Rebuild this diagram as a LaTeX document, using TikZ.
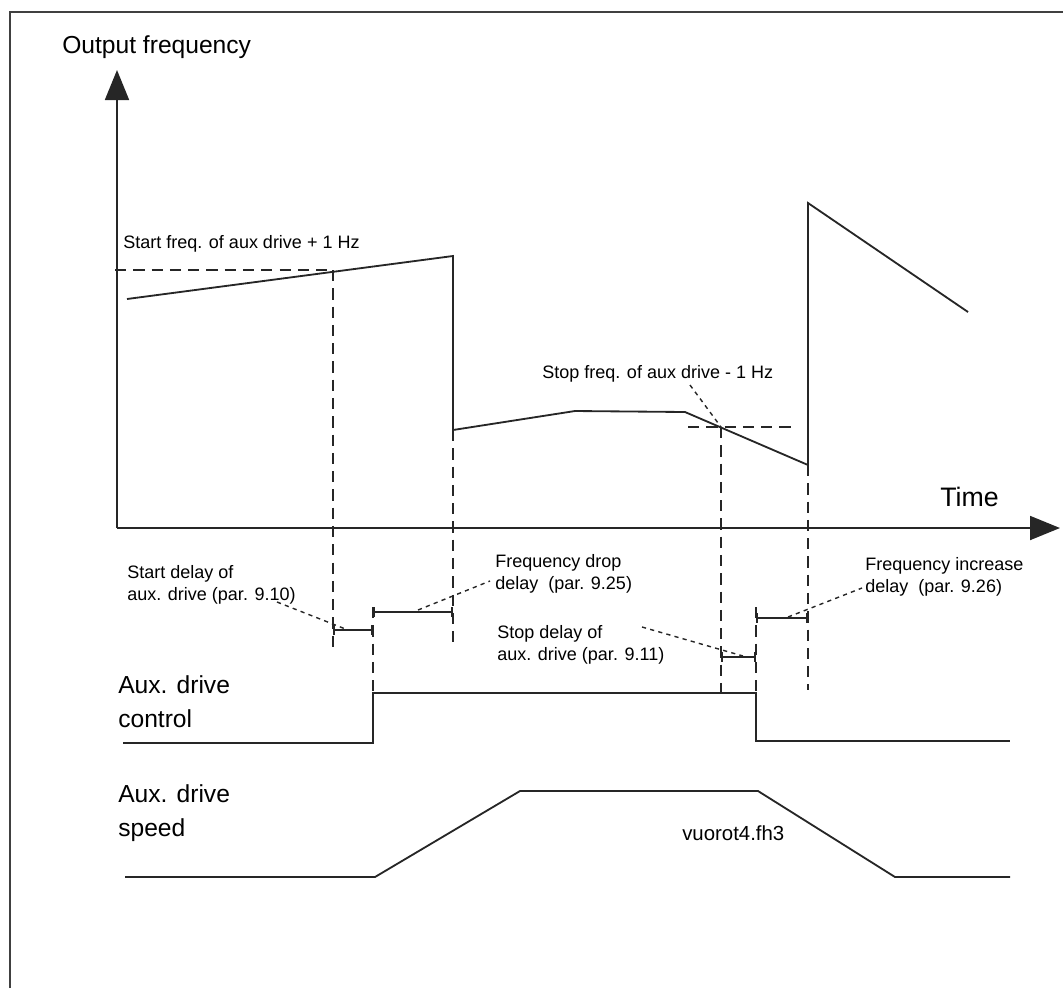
\documentclass[tikz,border=0pt]{standalone}
\usepackage{fontspec}
\setmainfont{Liberation Sans}
\usetikzlibrary{arrows.meta}

\begin{document}
\begin{tikzpicture}[x=0.025cm, y=-0.025cm,
        curve/.style={line width=1.3pt, black!85},
        guide/.style={line width=1.1pt, black!85, dash pattern=on 8pt off 5pt},
        leader/.style={line width=1pt, black!85, dash pattern=on 3pt off 3pt},
        delaybar/.style={line width=1.2pt, black!85, {Bar[width=7pt]}-{Bar[width=7pt]}},
        axis/.style={line width=1.3pt, black!85, -{Triangle[length=0.75cm, width=0.6cm]}},
        biglabel/.style={font=\fontsize{17.5}{23.5}\selectfont, anchor=base west, inner sep=0pt, align=left},
        smalllabel/.style={font=\fontsize{12.8}{15}\selectfont, anchor=base west, inner sep=0pt, align=left}
    ]
        \useasboundingbox (0,0) rectangle (1063,988);
        \draw[line width=1.4pt, black!75] (10,988) -- (10,12) -- (1063,12);

        % axes
        \coordinate (origin) at (117,528);
        \draw[axis] (origin) -- (117,70);
        \draw[axis] (origin) -- (1060,528);
        \node[biglabel] (ylabel) at (62,53) {Output frequency};
        \node[biglabel, font=\fontsize{19}{23}\selectfont] (xlabel) at (940,506) {Time};

        % output frequency
        \coordinate (f1) at (127,299);
        \coordinate (f2) at (453,256);
        \coordinate (f3) at (453,430);
        \coordinate (f4) at (575,411);
        \coordinate (f5) at (685,412);
        \coordinate (f6) at (808,465);
        \coordinate (f7) at (808,203);
        \coordinate (f8) at (968,312);
        \draw[curve] (f1) -- (f2) -- (f3) -- (f4) -- (f5) -- (f6) -- (f7) -- (f8);

        % start / stop levels
        \coordinate (on) at (333,270);
        \coordinate (off) at (721,427);
        \draw[guide] (115,270) -- (on);
        \draw[guide] (688,427) -- (792,427);
        \node[smalllabel] (onlabel) at (123,248) {Start freq. of aux drive + 1 Hz};
        \node[smalllabel] (offlabel) at (542,378) {Stop freq. of aux drive - 1 Hz};
        \draw[leader] (690,385) -- (off);

        % delay bars
        \coordinate (d1) at (333,630);
        \coordinate (d2) at (373,630);
        \coordinate (d3) at (373,612);
        \coordinate (d4) at (453,612);
        \coordinate (d5) at (721,657);
        \coordinate (d6) at (756,657);
        \coordinate (d7) at (756,618);
        \coordinate (d8) at (808,618);
        \draw[delaybar] (d1) -- (d2);
        \draw[delaybar] (d3) -- (d4);
        \draw[delaybar] (d5) -- (d6);
        \draw[delaybar] (d7) -- (d8);

        \draw[guide] (on) -- (333,650);
        \draw[guide] (f3) -- (453,645);
        \draw[guide] (off) -- (721,693);
        \draw[guide] (f6) -- (808,690);
        \draw[guide] (373,607) -- (373,693);
        \draw[guide] (756,607) -- (756,693);

        \node[smalllabel] (startdelay) at (127,600) {Start delay of\\aux. drive (par. 9.10)};
        \node[smalllabel] (dropdelay) at (495,589) {Frequency drop\\delay\ \ (par. 9.25)};
        \node[smalllabel] (stopdelay) at (497,660) {Stop delay of\\aux. drive (par. 9.11)};
        \node[smalllabel] (risedelay) at (865,592) {Frequency increase\\delay\ \ (par. 9.26)};
        \draw[leader] (277,602) -- (348,630);
        \draw[leader] (418,610) -- (490,581);
        \draw[leader] (642,627) -- (743,656);
        \draw[leader] (788,617) -- (862,588);

        % aux drive control
        \draw[curve] (123,743) -- (373,743) -- (373,693) -- (756,693) -- (756,741) -- (1010,741);
        \node[biglabel] (ctrllabel) at (118,727) {Aux. drive\\control};

        % aux drive speed
        \draw[curve] (125,877) -- (375,877) -- (520,791) -- (758,791) -- (895,877) -- (1010,877);
        \node[biglabel] (speedlabel) at (118,836) {Aux. drive\\speed};

        \node[font=\fontsize{14.5}{16}\selectfont, anchor=base west, inner sep=0pt] (fname) at (682,840) {vuorot4.fh3};
    \end{tikzpicture}
\end{document}
